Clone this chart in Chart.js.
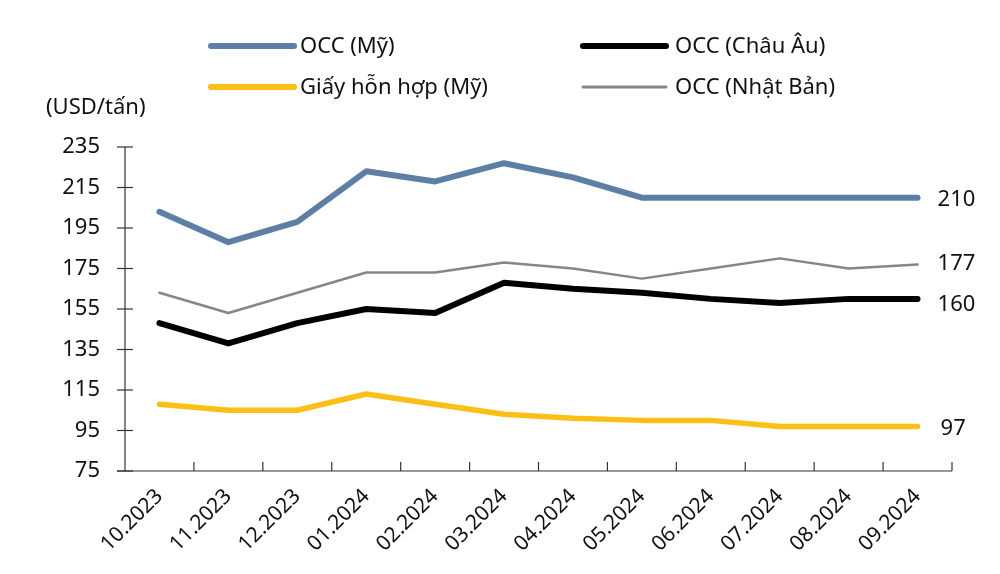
<!DOCTYPE html>
<html>
<head>
<meta charset="utf-8">
<script src="https://cdn.jsdelivr.net/npm/chart.js@4.4.1/dist/chart.umd.min.js"></script>
<style>
html,body{margin:0;padding:0;background:#fff;}
#wrap{width:1000px;height:574px;position:relative;}
</style>
</head>
<body>
<div id="wrap"><canvas id="c" width="1000" height="574"></canvas></div>
<script>
const categories = ["10.2023","11.2023","12.2023","01.2024","02.2024","03.2024","04.2024","05.2024","06.2024","07.2024","08.2024","09.2024"];
const occUS     = [203, 188, 198, 223, 218, 227, 220, 210, 210, 210, 210, 210];
const occEU     = [148, 138, 148, 155, 153, 168, 165, 163, 160, 158, 160, 160];
const mixedUS   = [108, 105, 105, 113, 108, 103, 101, 100, 100, 97, 97, 97];
const occJP     = [163, 153, 163, 173, 173, 178, 175, 170, 175, 180, 175, 177];
const seriesNames = ["OCC (Mỹ)", "OCC (Châu Âu)", "Giấy hỗn hợp (Mỹ)", "OCC (Nhật Bản)"];
const yTicks = [75, 95, 115, 135, 155, 175, 195, 215, 235];
const unitLabel = "(USD/tấn)";

const FONT = "'Noto Sans', 'DejaVu Sans', sans-serif";
const colors = ["#5d7fa6", "#000000", "#fcbf16", "#868686"];
const widths = [6, 6, 5.5, 2.5];

const datasets = [occUS, occEU, mixedUS, occJP].map((d, i) => ({
  label: seriesNames[i],
  data: d,
  borderColor: colors[i],
  backgroundColor: colors[i],
  borderWidth: widths[i],
  pointRadius: 0,
  tension: 0,
  fill: false,
  borderCapStyle: 'round',
  borderJoinStyle: 'round',
  order: i + 1
}));

const decor = {
  id: 'decor',
  afterDraw(chart) {
    const ctx = chart.ctx;
    const xs = chart.scales.x, ys = chart.scales.y;
    const ca = chart.chartArea;
    ctx.save();
    ctx.strokeStyle = "#333";
    ctx.lineWidth = 1.2;
    ctx.beginPath();
    ctx.moveTo(ca.left, ys.getPixelForValue(235));
    ctx.lineTo(ca.left, ca.bottom);
    ctx.stroke();
    yTicks.forEach(v => {
      const y = ys.getPixelForValue(v);
      ctx.beginPath();
      ctx.moveTo(ca.left - 8, y);
      ctx.lineTo(ca.left + 8, y);
      ctx.stroke();
    });
    ctx.beginPath();
    ctx.moveTo(ca.left - 8, ca.bottom);
    ctx.lineTo(ca.right, ca.bottom);
    ctx.stroke();
    const step = xs.getPixelForValue(1) - xs.getPixelForValue(0);
    for (let i = 1; i <= categories.length; i++) {
      const x = xs.getPixelForValue(0) - step / 2 + i * step;
      ctx.beginPath();
      ctx.moveTo(x, ca.bottom);
      ctx.lineTo(x, ca.bottom - 9);
      ctx.stroke();
    }
    ctx.fillStyle = "#111";
    ctx.font = "22px " + FONT;
    ctx.textAlign = "left";
    ctx.textBaseline = "middle";
    const last = categories.length - 1;
    const offs = [2, 6, 2, -1];
    [occUS, occEU, mixedUS, occJP].forEach((d, i) => {
      const x = xs.getPixelForValue(last) + 20 + (d[last] < 100 ? 3 : 0);
      const y = ys.getPixelForValue(d[last]) + offs[i];
      ctx.fillText(String(d[last]), x, y);
    });
    ctx.fillText(unitLabel, 46, 108);
    const legendPos = [[208, 46], [580, 46], [208, 87], [580, 87]];
    legendPos.forEach((p, i) => {
      ctx.strokeStyle = colors[i];
      ctx.lineWidth = i === 3 ? 3 : 6;
      ctx.lineCap = 'round';
      ctx.beginPath();
      ctx.moveTo(p[0] + 3, p[1]);
      ctx.lineTo(p[0] + 86, p[1]);
      ctx.stroke();
      ctx.fillStyle = "#111";
      ctx.fillText(seriesNames[i], p[0] + (i % 2 === 0 ? 92 : 95), p[1] + 1);
    });
    ctx.restore();
  }
};

new Chart(document.getElementById('c'), {
  type: 'line',
  data: { labels: categories, datasets: datasets },
  options: {
    responsive: false,
    animation: false,
    layout: { padding: { left: 0, right: 48, top: 147, bottom: 0 } },
    plugins: { legend: { display: false }, tooltip: { enabled: false } },
    scales: {
      x: {
        offset: true,
        grid: { display: false, drawTicks: false },
        border: { display: false },
        ticks: {
          color: "#111",
          font: { family: FONT, size: 21 },
          minRotation: 45, maxRotation: 45,
          padding: 13
        },
        afterFit(s) { s.height = 103; }
      },
      y: {
        min: 75, max: 235,
        afterBuildTicks(s) { s.ticks = yTicks.map(v => ({ value: v })); },
        grid: { display: false, drawTicks: false },
        border: { display: false },
        ticks: {
          color: "#111",
          font: { family: FONT, size: 22 },
          padding: 25
        },
        afterFit(s) { s.width = 125; }
      }
    }
  },
  plugins: [decor]
});
</script>
</body>
</html>
